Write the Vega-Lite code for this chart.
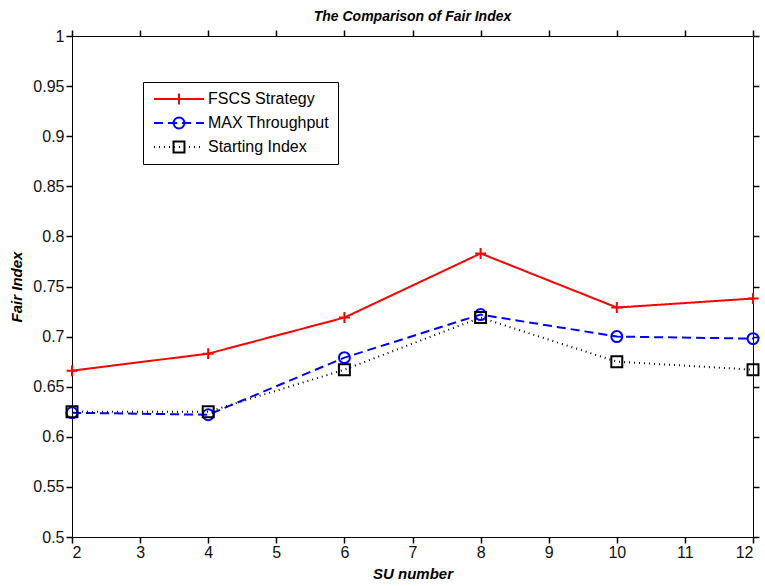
{
  "$schema": "https://vega.github.io/schema/vega-lite/v6.json",
  "autosize": "none",
  "width": 681,
  "height": 501,
  "padding": {"left": 72, "top": 36, "right": 12, "bottom": 49},
  "background": "white",
  "config": {
    "view": {"stroke": "black", "strokeWidth": 1},
    "font": "Liberation Sans",
    "axis": {
      "labelFont": "Liberation Sans",
      "labelFontSize": 16,
      "labelColor": "#111",
      "grid": false,
      "domain": true,
      "domainColor": "#000000",
      "domainWidth": 1,
      "ticks": true,
      "tickColor": "#000000",
      "tickOpacity": 1,
      "tickWidth": 1.5,
      "tickSize": 6
    }
  },
  "title": {
    "text": "The Comparison of Fair Index",
    "font": "Liberation Sans",
    "fontSize": 14,
    "fontStyle": "italic",
    "fontWeight": "bold",
    "color": "black",
    "anchor": "middle",
    "offset": 4
  },
  "data": {
    "values": [
      {"su": 2, "series": "FSCS Strategy", "fair": 0.666},
      {"su": 4, "series": "FSCS Strategy", "fair": 0.683},
      {"su": 6, "series": "FSCS Strategy", "fair": 0.719},
      {"su": 8, "series": "FSCS Strategy", "fair": 0.783},
      {"su": 10, "series": "FSCS Strategy", "fair": 0.729},
      {"su": 12, "series": "FSCS Strategy", "fair": 0.738},
      {"su": 2, "series": "MAX Throughput", "fair": 0.624},
      {"su": 4, "series": "MAX Throughput", "fair": 0.622},
      {"su": 6, "series": "MAX Throughput", "fair": 0.679},
      {"su": 8, "series": "MAX Throughput", "fair": 0.722},
      {"su": 10, "series": "MAX Throughput", "fair": 0.700},
      {"su": 12, "series": "MAX Throughput", "fair": 0.698},
      {"su": 2, "series": "Starting Index", "fair": 0.625},
      {"su": 4, "series": "Starting Index", "fair": 0.625},
      {"su": 6, "series": "Starting Index", "fair": 0.667},
      {"su": 8, "series": "Starting Index", "fair": 0.719},
      {"su": 10, "series": "Starting Index", "fair": 0.675},
      {"su": 12, "series": "Starting Index", "fair": 0.667}
    ]
  },
  "resolve": {
    "axis": {"x": "independent", "y": "independent"},
    "legend": {"shape": "independent"}
  },
  "layer": [
    {
      "mark": {"type": "line", "strokeWidth": 2},
      "encoding": {
        "x": {
          "field": "su", "type": "quantitative",
          "scale": {"domain": [2, 12], "nice": false, "zero": false},
          "axis": {
            "orient": "bottom",
            "values": [2, 3, 4, 5, 6, 7, 8, 9, 10, 11, 12],
            "title": "SU number",
            "titleFont": "Liberation Sans",
            "titleFontSize": 15,
            "titleFontStyle": "italic",
            "titleFontWeight": "bold",
            "titleColor": "black",
            "titlePadding": 6,
            "labelPadding": 1
          }
        },
        "y": {
          "field": "fair", "type": "quantitative",
          "scale": {"domain": [0.5, 1], "nice": false, "zero": false},
          "axis": {
            "orient": "left",
            "values": [0.5, 0.55, 0.6, 0.65, 0.7, 0.75, 0.8, 0.85, 0.9, 0.95, 1],
            "format": ".2~f",
            "title": "Fair Index",
            "titleFont": "Liberation Sans",
            "titleFontSize": 15,
            "titleFontStyle": "italic",
            "titleFontWeight": "bold",
            "titleColor": "black",
            "titlePadding": 8,
            "labelPadding": 2
          }
        },
        "color": {
          "field": "series", "type": "nominal",
          "scale": {
            "domain": ["FSCS Strategy", "MAX Throughput", "Starting Index"],
            "range": ["#ff0000", "#0000ff", "#000000"]
          },
          "legend": {
            "orient": "none",
            "legendX": 71,
            "legendY": 46,
            "title": null,
            "symbolType": "M-4.17,0H4.17",
            "symbolSize": 144,
            "symbolStrokeWidth": 2,
            "symbolOffset": 19,
            "labelFont": "Liberation Sans",
            "labelFontSize": 16,
            "labelColor": "black",
            "labelOffset": 21,
            "rowPadding": 8,
            "padding": 9,
            "strokeColor": "black",
            "fillColor": "white"
          }
        },
        "strokeDash": {
          "field": "series", "type": "nominal",
          "scale": {
            "domain": ["FSCS Strategy", "MAX Throughput", "Starting Index"],
            "range": [[1, 0], [9, 5], [1, 4]]
          }
        }
      }
    },
    {
      "mark": {"type": "point", "filled": false, "strokeWidth": 2, "opacity": 1, "size": 120},
      "encoding": {
        "x": {
          "field": "su", "type": "quantitative",
          "axis": {"orient": "top", "values": [2, 3, 4, 5, 6, 7, 8, 9, 10, 11, 12], "labels": false, "title": null}
        },
        "y": {
          "field": "fair", "type": "quantitative",
          "axis": {"orient": "right", "values": [0.5, 0.55, 0.6, 0.65, 0.7, 0.75, 0.8, 0.85, 0.9, 0.95, 1], "labels": false, "title": null}
        },
        "color": {"field": "series", "type": "nominal"},
        "shape": {
          "field": "series", "type": "nominal",
          "scale": {
            "domain": ["FSCS Strategy", "MAX Throughput", "Starting Index"],
            "range": ["M-1,0H1M0,-1V1", "circle", "square"]
          },
          "legend": {
            "orient": "top-left",
            "offset": 46,
            "title": null,
            "symbolSize": 120,
            "symbolStrokeWidth": 2,
            "symbolOffset": 44,
            "symbolStrokeColor": {"expr": "datum.value === 'FSCS Strategy' ? '#ff0000' : datum.value === 'MAX Throughput' ? '#0000ff' : '#000000'"},
            "symbolFillColor": "white",
            "labelColor": "transparent",
            "labelFont": "Liberation Sans",
            "labelFontSize": 16,
            "labelOffset": 21,
            "rowPadding": 4,
            "padding": 9
          }
        }
      }
    }
  ]
}
